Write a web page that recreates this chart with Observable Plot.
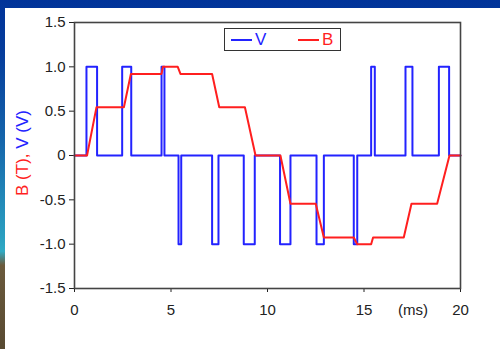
<!DOCTYPE html>
<html>
<head>
<meta charset="utf-8">
<script src="https://cdn.jsdelivr.net/npm/d3@7"></script>
<script src="https://cdn.jsdelivr.net/npm/@observablehq/plot@0.6"></script>
<style>
  html, body { margin: 0; padding: 0; }
  body {
    width: 500px; height: 349px; overflow: hidden; position: relative;
    background: linear-gradient(to bottom, #003399 0%, #063d9c 15%, #1565ab 40%, #2a9fc0 68%, #30aac4 72%, #6b5a3c 76%, #584a32 100%);
    font-family: "Liberation Sans", Arial, sans-serif;
  }
  #panel { position: absolute; left: 5px; top: 8px; right: 0; bottom: 0; background: #fff; }
  #chart { position: absolute; left: 0; top: 0; }
  #ylab {
    position: absolute; left: 22px; top: 153px;
    transform: translate(-50%, -50%) rotate(-90deg);
    white-space: nowrap; font-size: 17px; line-height: 1;
  }
  #legend {
    position: absolute; left: 224px; top: 28px; width: 117px; height: 23px;
    border: 1.5px solid #333; background: #fff; box-sizing: border-box;
    font-size: 17px; line-height: 1;
  }
  .item { position: absolute; top: 2px; display: flex; align-items: center; }
  .sw { display: inline-block; width: 21px; height: 2px; margin-right: 3px; }
  #xunit { position: absolute; left: 398px; top: 301px; font-size: 15px; color: #222; }
</style>
</head>
<body>
<div id="panel"></div>
<div id="chart"></div>
<div id="ylab"><span style="color:#ff1f1f">B (T), </span><span style="color:#2323ff">V (V)</span></div>
<div id="legend">
  <div class="item" style="left:6px;color:#2323ff"><span class="sw" style="background:#2323ff"></span>V</div>
  <div class="item" style="left:73px;color:#ff1f1f"><span class="sw" style="background:#ff1f1f"></span>B</div>
</div>
<div id="xunit">(ms)</div>
<script>
// Voltage (step waveform): switching times (ms) and level held after each time
const vTime  = [0, 0.62, 1.17, 2.47, 2.94, 4.51, 4.66, 5.39, 5.53, 7.13, 7.46, 8.77, 9.34, 10.65, 11.19, 12.54, 12.92, 14.47, 14.65, 15.37, 15.56, 17.15, 17.51, 18.88, 19.41, 20];
const vLevel = [0, 1,    0,    1,    0,    1,    0,    -1,   0,    -1,   0,    -1,   0,    -1,    0,     -1,    0,     -1,    0,     1,     0,     1,     0,     1,     0,     0];

// Flux density B (piecewise linear)
const bTime  = [0, 0.65, 1.14, 2.56, 2.92, 4.51, 4.58, 5.35, 5.49, 7.13, 7.50, 8.83, 9.38, 10.67, 11.19, 12.50, 12.92, 14.47, 14.65, 15.37, 15.47, 17.06, 17.46, 18.79, 19.43, 20];
const bValue = [0, 0,    0.545, 0.545, 0.92, 0.92, 1.0,  1.0,  0.92, 0.92, 0.545, 0.545, 0,   0,     -0.545, -0.545, -0.925, -0.925, -1.0, -1.0,  -0.925, -0.925, -0.545, -0.545, 0,   0];

const xTicks = [0, 5, 10, 15, 20];
const yTicks = [1.5, 1.0, 0.5, 0, -0.5, -1.0, -1.5];
const yTickLabels = ["1.5", "1.0", "0.5", "0", "-0.5", "-1.0", "-1.5"];

const vData = vTime.map((t, i) => ({t, v: vLevel[i]}));
const bData = bTime.map((t, i) => ({t, v: bValue[i]}));

const chart = Plot.plot({
  width: 500,
  height: 349,
  marginLeft: 74,
  marginRight: 40,
  marginTop: 22,
  marginBottom: 61,
  style: {background: "transparent", fontFamily: "Liberation Sans, Arial, sans-serif", fontSize: "15px", color: "#222"},
  x: {domain: [0, 20], ticks: xTicks, tickSize: 4, tickPadding: 12, label: null},
  y: {domain: [-1.5, 1.5], ticks: yTicks, tickSize: 5, tickPadding: 4, label: null,
      tickFormat: d => yTickLabels[yTicks.indexOf(d)]},
  marks: [
    Plot.line(vData, {x: "t", y: "v", curve: "step-after", stroke: "#2323ff", strokeWidth: 2}),
    Plot.line(bData, {x: "t", y: "v", stroke: "#ff1f1f", strokeWidth: 2}),
    Plot.frame({stroke: "#444", strokeWidth: 1.6})
  ]
});
document.getElementById("chart").appendChild(chart);
</script>
</body>
</html>
